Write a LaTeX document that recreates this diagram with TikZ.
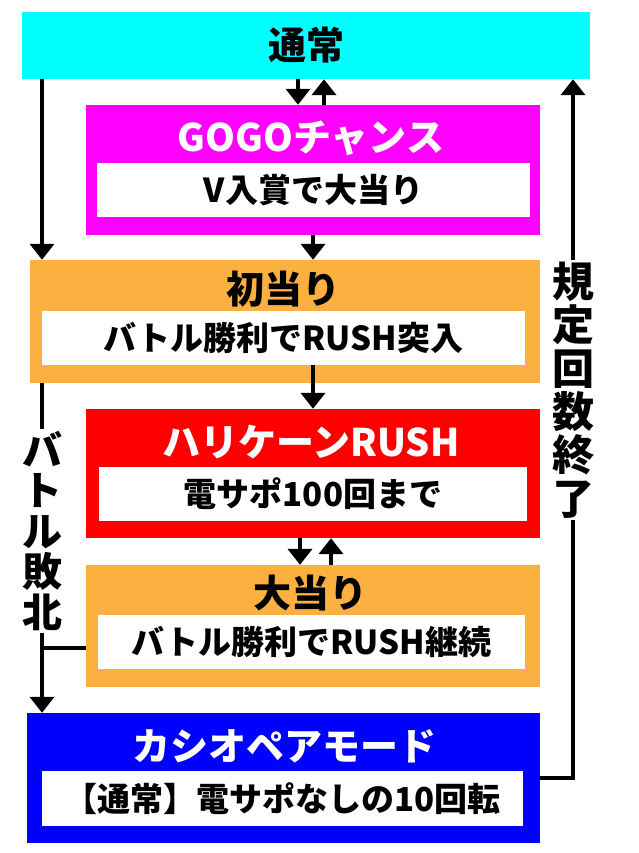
\documentclass[tikz,border=0pt]{standalone}
\usepackage{fontspec}
\setmainfont{Noto Sans CJK JP}[BoldFont={Noto Sans CJK JP Black}]
\usetikzlibrary{arrows.meta}

\definecolor{cnormal}{HTML}{00FFFF}
\definecolor{cgogo}{HTML}{FF00FF}
\definecolor{catari}{HTML}{FBB040}
\definecolor{crush}{HTML}{FF0000}
\definecolor{ccassio}{HTML}{0000FF}

\begin{document}
\begin{tikzpicture}[x=1pt,y=-1pt]

    % Tamanhos de fonte (título, texto interno, rótulos verticais)
    \def\ftit{\fontsize{38}{40}\selectfont\bfseries}
    \def\fint{\fontsize{33}{36}\selectfont\bfseries}
    \def\fver{\fontsize{42}{43.3}\selectfont\bfseries}
    \def\fves{\fontsize{40}{40.5}\selectfont\bfseries}

    % Estilos de caixa, texto e setas
    \tikzstyle{caixa} = [rectangle, inner sep=0pt, font=\ftit];
    \tikzstyle{interna} = [
      rectangle, fill=white, inner sep=0pt,
      minimum height=54pt, font=\fint
    ];
    \tikzstyle{titulo} = [inner sep=0pt, font=\ftit];
    \tikzstyle{rotulo} = [fill=white, align=center, inner sep=2pt, font=\fver];
    \tikzstyle{linha} = [line width=4.5pt];
    \tikzstyle{seta} = [linha, -{Triangle[length=16pt,width=24pt]}];

    % Área total da figura
    \fill[white] (0,0) rectangle (639,853);
    \useasboundingbox (0,0) rectangle (639,853);

    % Estado normal
    \node[caixa, fill=cnormal, minimum width=568pt, minimum height=67pt]
      (normal) at (306,45.5) {通常};

    % GOGOチャンス
    \node[caixa, fill=cgogo, minimum width=454pt, minimum height=130pt]
      (gogo) at (313,170) {};
    \node[titulo, white] (gogotit) at (311,138) {GOGOチャンス};
    \node[interna, minimum width=433pt] (gogoin) at (313.5,190) {V入賞で大当り};

    % Primeiro acerto
    \node[caixa, fill=catari, minimum width=510pt, minimum height=123pt]
      (hatsu) at (285,321.5) {};
    \node[titulo] (hatsutit) at (283,289) {初当り};
    \node[interna, minimum width=483pt] (hatsuin) at (283.5,338) {バトル勝利でRUSH突入};

    % ハリケーンRUSH
    \node[caixa, fill=crush, minimum width=454pt, minimum height=129pt]
      (rush) at (313,473.5) {};
    \node[titulo, white] (rushtit) at (311,442) {ハリケーンRUSH};
    \node[interna, minimum width=428pt] (rushin) at (313,494) {電サポ100回まで};

    % Acerto durante o RUSH
    \node[caixa, fill=catari, minimum width=454pt, minimum height=122pt]
      (oatari) at (313,626) {};
    \node[titulo] (oataritit) at (310,593) {大当り};
    \node[interna, minimum width=427pt] (oatariin) at (311.5,642) {バトル勝利でRUSH継続};

    % カシオペアモード
    \node[caixa, fill=ccassio, minimum width=513pt, minimum height=130pt]
      (cassio) at (283.5,778) {};
    \node[titulo, white] (cassiotit) at (284,746) {カシオペアモード};
    \node[interna, minimum width=481pt, minimum height=55pt]
      (cassioin) at (282.5,798.5) {【通常】電サポなしの10回転};

    % Rótulos verticais
    \node[rotulo, font=\fves] (haiboku) at (42,531) {バ\\ト\\ル\\敗\\北};
    \node[rotulo] (kitei) at (573,390) {規\\定\\回\\数\\終\\了};

    % Setas entre as caixas
    \draw[seta] ([xshift=-15pt]gogo.north |- normal.south) -- ([xshift=-15pt]gogo.north);
    \draw[seta] ([xshift=11pt]gogo.north) -- ([xshift=11pt]gogo.north |- normal.south);
    \draw[seta] (gogo.south) -- (gogo.south |- hatsu.north);
    \draw[seta] (hatsuin.south -| rush.north) -- (rush.north);
    \draw[seta] ([xshift=-13pt]oatari.north |- rush.south) -- ([xshift=-13pt]oatari.north);
    \draw[seta] ([xshift=18pt]oatari.north) -- ([xshift=18pt]oatari.north |- rush.south);

    % Lado esquerdo: derrota na batalha
    \draw[seta] (normal.south -| haiboku) -- (hatsu.north -| haiboku);
    \draw[linha] (hatsu.south -| haiboku) -- (haiboku.north);
    \draw[seta] (haiboku.south) -- (cassio.north -| haiboku);
    \draw[linha] ([yshift=-22pt]oatari.west) -- ([yshift=-22pt]oatari.west -| haiboku);

    % Lado direito: fim das rodadas
    \coordinate (canto) at (cassio.east -| kitei);
    \draw[linha] (cassio.east) -- (canto) -- (kitei.south);
    \draw[seta] (kitei.north) -- (kitei.north |- normal.south);

\end{tikzpicture}
\end{document}
